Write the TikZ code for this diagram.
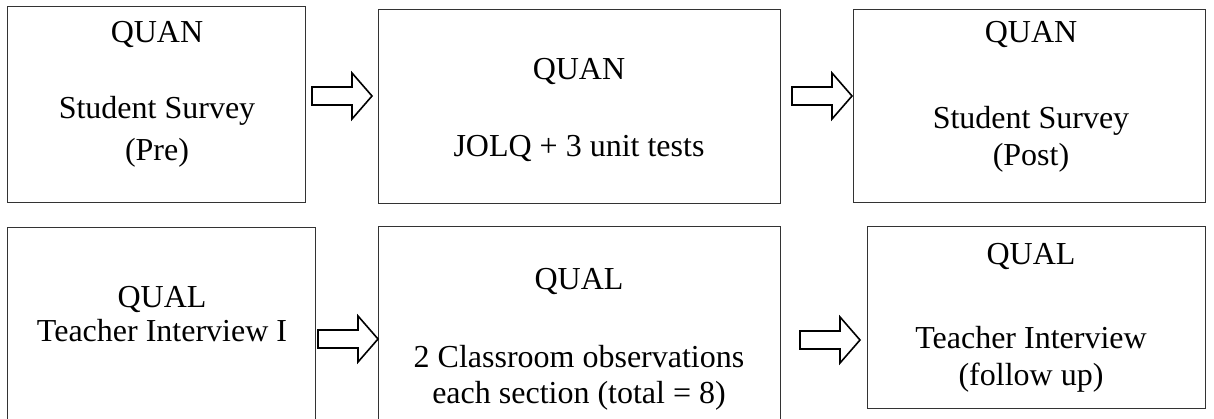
\documentclass[tikz,border=0pt]{standalone}
\usepackage{fontspec}
\setmainfont{Liberation Serif}
\begin{document}
\begin{tikzpicture}[x=1pt,y=-1pt,
  box/.style={draw=black!80, line width=0.9pt},
  txt/.style={anchor=base, inner sep=0pt, font=\fontsize{32}{38}\selectfont},
  blockarrow/.style={draw=black, line width=1.6pt, fill=white, line join=miter}]
\useasboundingbox (0,0) rectangle (1214,419);
% boxes
\draw[box] (7,6) rectangle (305,202);
\draw[box] (378,9) rectangle (780,203);
\draw[box] (853,9) rectangle (1205,202);
\draw[box] (7,227) rectangle (315,425);
\draw[box] (378,226) rectangle (780,425);
\draw[box] (867,226) rectangle (1205,408);
% texts
\node[txt] (t1a) at (157,43) {QUAN};
\node[txt] (t1b) at (157,119) {Student Survey};
\node[txt] (t1c) at (157,161) {(Pre)};
\node[txt] (t2a) at (579,80) {QUAN};
\node[txt] (t2b) at (579,157) {JOLQ + 3 unit tests};
\node[txt] (t3a) at (1031,43) {QUAN};
\node[txt] (t3b) at (1031,129) {Student Survey};
\node[txt] (t3c) at (1031,166) {(Post)};
\node[txt] (t4a) at (162,307) {QUAL};
\node[txt] (t4b) at (162,341) {Teacher Interview I};
\node[txt] (t5a) at (579,290) {QUAL};
\node[txt] (t5b) at (579,367) {2 Classroom observations};
\node[txt] (t5c) at (579,403) {each section (total = 8)};
\node[txt] (t6a) at (1031,265) {QUAL};
\node[txt] (t6b) at (1031,348) {Teacher Interview};
\node[txt] (t6c) at (1031,385) {(follow up)};
% block arrows
\foreach \x/\y in {312/96, 792/96, 318/339, 800/340}{
  \draw[blockarrow] (\x,\y-9) -- ++(40,0) -- ++(0,-14) -- ++(20,23) -- ++(-20,23) -- ++(0,-14) -- ++(-40,0) -- cycle;
}
\end{tikzpicture}
\end{document}
